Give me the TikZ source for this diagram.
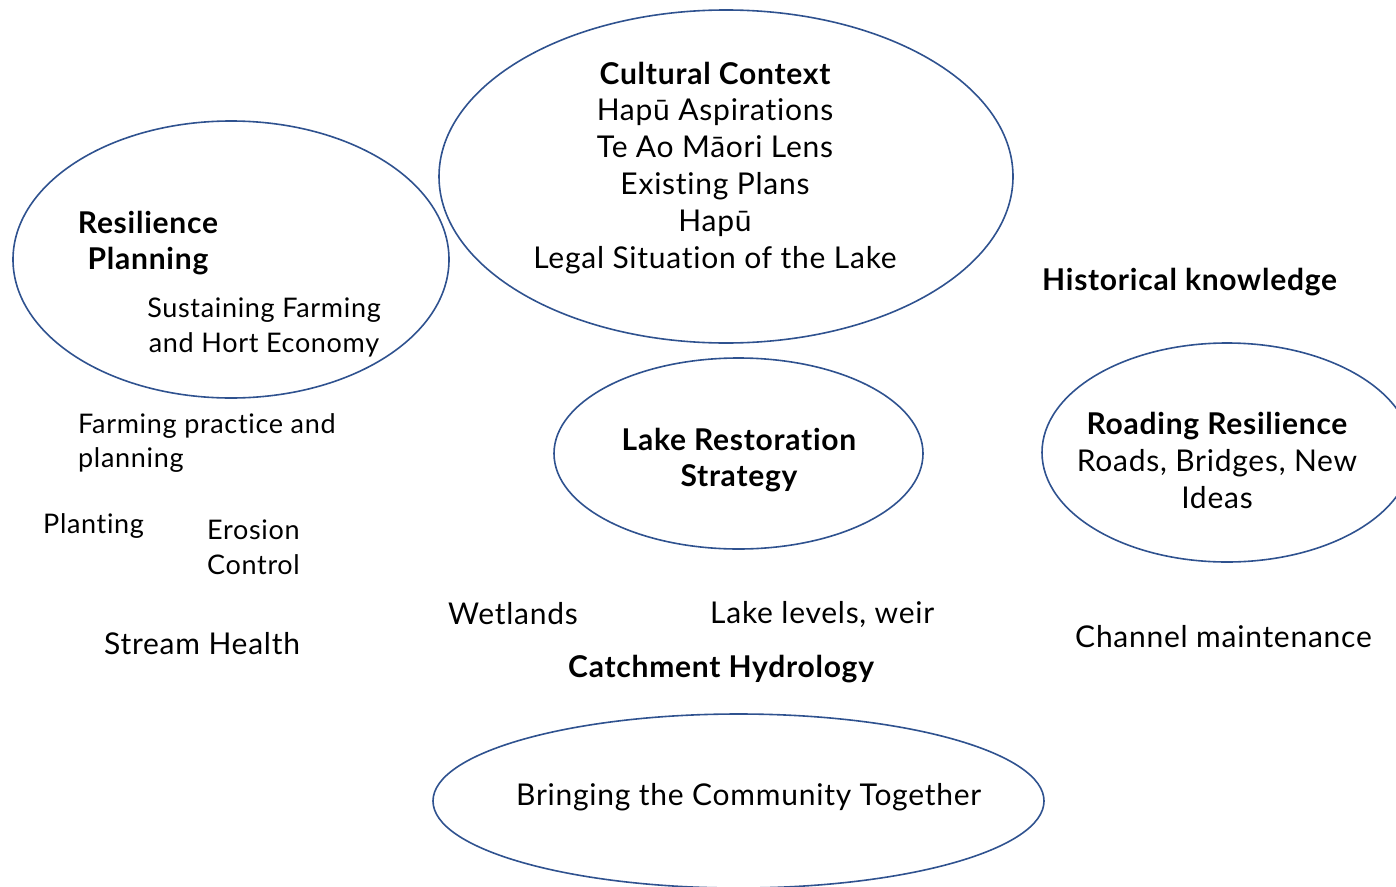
\documentclass[tikz,border=0pt]{standalone}
\usepackage{fontspec}
\setmainfont{Lato}[Ligatures={NoCommon}, LetterSpace=2.5]
\usetikzlibrary{shapes.geometric}
\definecolor{rimblue}{RGB}{47,82,143}

\begin{document}
\begin{tikzpicture}[x=1pt, y=-1pt]
        % Define styles
        \tikzstyle{bubble}=[ellipse,draw=rimblue,line width=1.6pt,inner sep=0pt]
        \tikzstyle{words}=[inner sep=0pt,font=\fontsize{30}{36}\selectfont]
        \tikzstyle{smallwords}=[inner sep=0pt,font=\fontsize{27}{35}\selectfont]
        \tikzstyle{heading}=[words,font=\fontsize{30}{36}\selectfont\bfseries]

        \useasboundingbox (0,0) rectangle (1396,886);

        % Ellipses
        \node [bubble, minimum width=436, minimum height=277] (resilience) at (231,259.5) {};
        \node [bubble, minimum width=574, minimum height=333] (cultural) at (726,176.5) {};
        \node [bubble, minimum width=369, minimum height=191] (lake) at (738.5,453.5) {};
        \node [bubble, minimum width=370, minimum height=219] (roading) at (1227,452.5) {};
        \node [bubble, minimum width=611, minimum height=174] (community) at (738.5,801) {};

        % Cultural context
        \node [heading, anchor=base] (cultural-title) at (715,84) {Cultural Context};
        \foreach \l [count=\y] in {Hapū Aspirations,Te Ao Māori Lens,Existing Plans,Hapū,Legal Situation of the Lake}
            \node [words, anchor=base] (cultural-\y) at (715,84+36.8*\y) {\l};

        % Resilience planning
        \node [heading, anchor=base] (resilience-1) at (148,233) {Resilience};
        \node [heading, anchor=base] (resilience-2) at (148,269) {Planning};
        \node [smallwords, anchor=base] (sustain-1) at (264,317) {Sustaining Farming};
        \node [smallwords, anchor=base] (sustain-2) at (264,352) {and Hort Economy};

        % Lake restoration
        \node [heading, anchor=base] (lake-1) at (739,450) {Lake Restoration};
        \node [heading, anchor=base] (lake-2) at (739,486) {Strategy};

        % Roading resilience
        \node [heading, anchor=base] (roading-title) at (1217,434) {Roading Resilience};
        \node [words, anchor=base] (roading-1) at (1217,471) {Roads, Bridges, New};
        \node [words, anchor=base] (roading-2) at (1217,508) {Ideas};

        % Bold labels outside
        \node [heading, anchor=base west] (history) at (1042,290) {Historical knowledge};
        \node [heading, anchor=base west] (hydrology) at (568,677) {Catchment Hydrology};

        % Smaller labels on the left
        \foreach \n/\x/\y/\t in {farming-1/78/433/{Farming practice and},
                                 farming-2/78/467/planning,
                                 planting/43/533/Planting,
                                 erosion-1/207/539/Erosion,
                                 erosion-2/207/574/Control}
            \node [smallwords, anchor=base west] (\n) at (\x,\y) {\t};

        % Plain labels outside
        \foreach \n/\x/\y/\t in {stream/104/654/{Stream Health},
                                 wetlands/448/624/Wetlands,
                                 levels/710/623/{Lake levels, weir},
                                 channel/1075/647/{Channel maintenance},
                                 together/516/805/{Bringing the Community Together}}
            \node [words, anchor=base west] (\n) at (\x,\y) {\t};
    \end{tikzpicture}
\end{document}
